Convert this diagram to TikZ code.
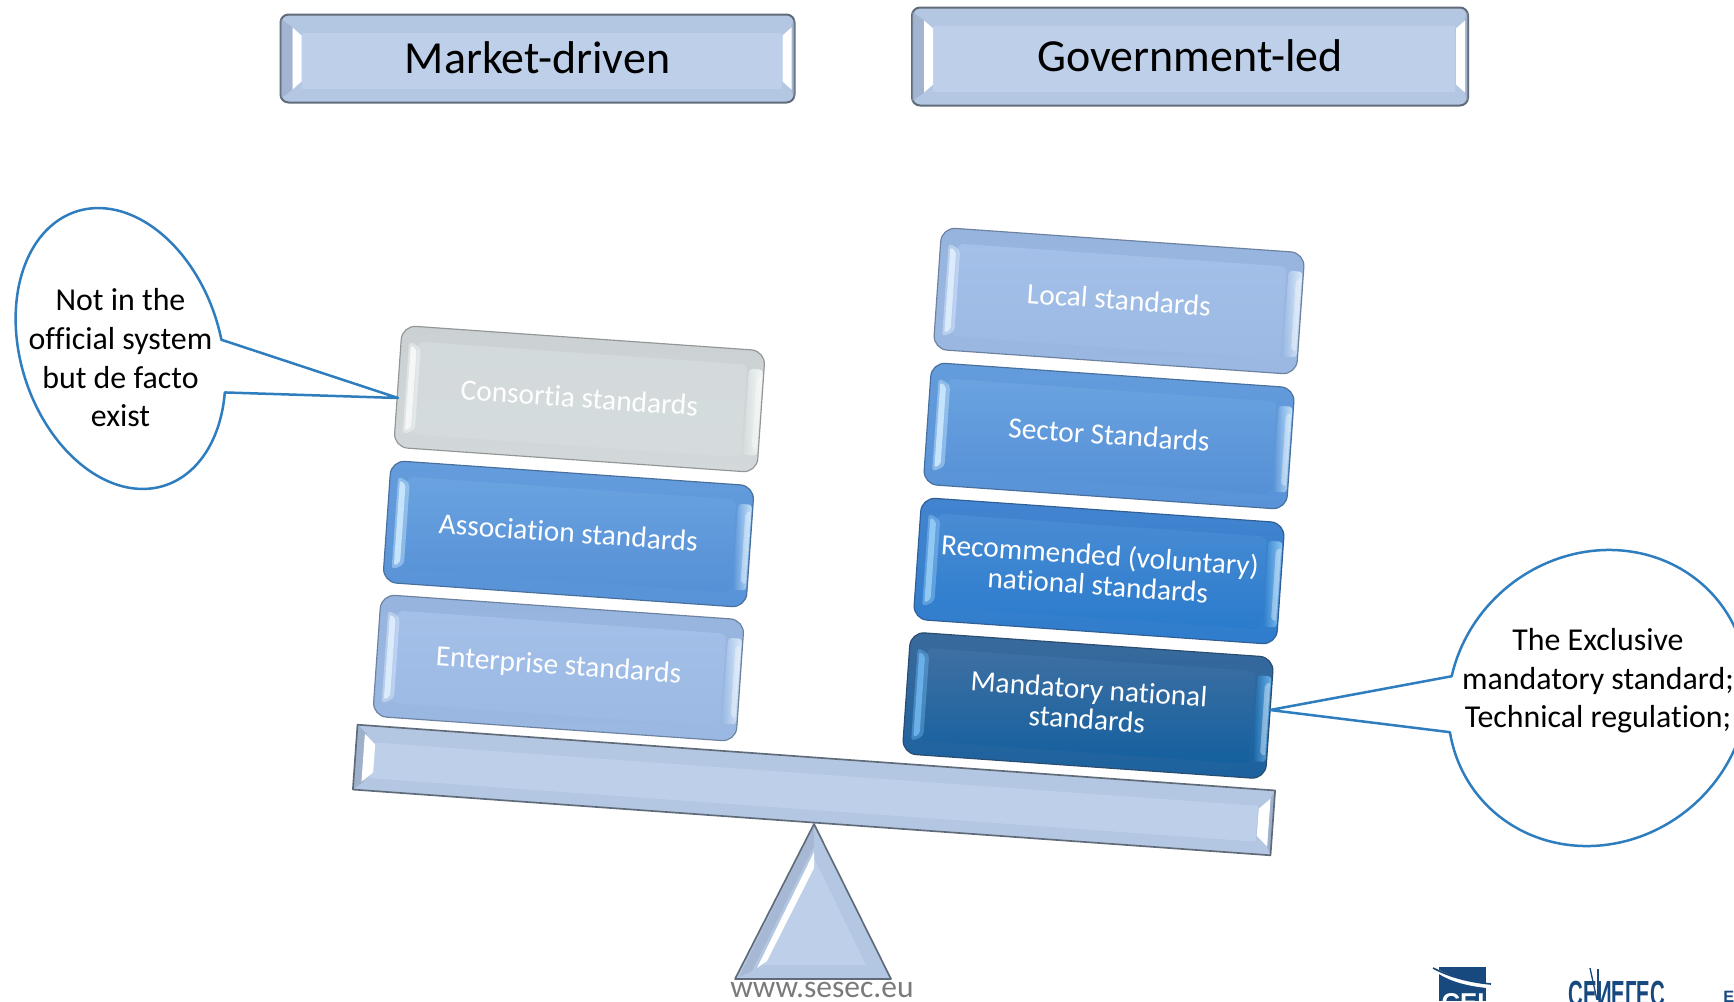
\documentclass[tikz,border=0pt]{standalone}
\usepackage{fontspec}
\setmainfont{Carlito}[Ligatures=NoCommon]
\newfontfamily\logofont{Liberation Sans}
\usetikzlibrary{calc}
\definecolor{bevelmid}{HTML}{BDCFE9}
\definecolor{bevelband}{HTML}{B3C6E2}
\definecolor{beveldark}{HTML}{8E9FB8}
\definecolor{bevelline}{HTML}{5F6B78}
\definecolor{calloutblue}{HTML}{2E7DBE}
\definecolor{logoblue}{HTML}{17497E}
\tikzset{
  blockbody/.style={rounded corners=0.42cm,minimum width=10.92cm,minimum height=3.66cm,inner sep=0pt,rotate=-4},
  blocktext/.style={rotate=-4,align=center,text=white,inner sep=0pt,font=\fontsize{25.1}{28.5}\selectfont},
  titletext/.style={font=\fontsize{39.2}{46}\selectfont,text=black,inner sep=0pt},
  callouttext/.style={font=\fontsize{27.2}{33}\selectfont,text=black,align=center,inner sep=0pt},
  calloutline/.style={draw=calloutblue,line width=0.075cm,fill=white,line join=round},
  weblabel/.style={font=\fontsize{26.9}{32}\selectfont,text=black!52,inner sep=0pt},
}
% name, cx, cy, edge colour, centre top, centre bottom, highlight, text
\newcommand{\stdblock}[8]{%
  \definecolor{blockedge}{HTML}{#4}\definecolor{blocktop}{HTML}{#5}\definecolor{blockbot}{HTML}{#6}\definecolor{blockhi}{HTML}{#7}%
  \node[blockbody,top color=blockedge,bottom color=blockbot!80!blockedge,draw=blockedge!72!black,line width=0.035cm] (#1) at (#2,#3) {};
  \begin{scope}[shift={(#1.center)},rotate=-4]
    \shade[top color=blocktop,bottom color=blockbot,rounded corners=0.2cm] (-165,-46) rectangle (165,47);
    \fill[blockhi,opacity=.45,rounded corners=0.12cm] (-174,-46) -- (-162,-40) -- (-162,42) -- (-174,48) -- cycle;
    \fill[blockhi,rounded corners=0.08cm] (-172,-42) -- (-166,-38) -- (-166,40) -- (-172,44) -- cycle;
    \shade[left color=blockbot,right color=blockhi,rounded corners=0.1cm] (167,-42) rectangle (181,44);
    \fill[white,opacity=.35,rounded corners=0.06cm] (180,-36) -- (175,-33) -- (175,36) -- (180,38) -- cycle;
  \end{scope}
  \node[blocktext] (#1text) at ($(#2,#3)+(0,-1.5)$) {#8};}
% name, cx, cy, half width, half height, text
\newcommand{\titlebox}[6]{%
  \node[draw=bevelline,line width=0.06cm,rounded corners=0.24cm,fill=bevelband,
    minimum width=#4*0.06cm,minimum height=#5*0.06cm,inner sep=0pt] (#1) at (#2,#3) {};
  \begin{scope}[shift={(#1.center)}]
    \fill[beveldark,opacity=.45] (-#4,-#5+4) -- (-#4+12,-#5+13) -- (-#4+12,#5-13) -- (-#4,#5-4) -- cycle;
    \fill[beveldark,opacity=.45] (#4,-#5+4) -- (#4-3,-#5+11) -- (#4-3,#5-11) -- (#4,#5-4) -- cycle;
    \fill[bevelmid] (-#4+21,-#5+18) rectangle (#4-13,#5-14);
    \fill[white] (-#4+12,-#5+13) -- (-#4+21,-#5+21) -- (-#4+21,#5-21) -- (-#4+12,#5-13) -- cycle;
    \fill[white] (#4-3,-#5+13) -- (#4-12,-#5+21) -- (#4-12,#5-21) -- (#4-3,#5-13) -- cycle;
  \end{scope}
  \node[titletext] (#1text) at ($(#2,#3)+(0,-1)$) {#6};}
\begin{document}
\begin{tikzpicture}[x=0.03cm,y=-0.03cm]
\useasboundingbox (0,0) rectangle (1734,1001);
\clip (0,0) rectangle (1734,1001);

\titlebox{market}{537.5}{58.5}{257}{44}{Market-driven}
\titlebox{govt}{1190}{56.5}{278}{49}{Government-led}

% fulcrum
\coordinate (fa) at (814,824);
\coordinate (fl) at (735,979);
\coordinate (fr) at (891,979);
\fill[bevelband] (fa) -- (fl) -- (fr) -- cycle;
\fill[bevelmid] (814,858) -- (762,965) -- (866,965) -- cycle;
\fill[white] (814,852) -- (757,968) -- (767,961) -- (814,868) -- cycle;
\fill[beveldark,opacity=.35] (814,826) -- (739,977) -- (752,971) -- (814,846) -- cycle;
\draw[bevelline,line width=0.05cm,line join=round] (fa) -- (fl) -- (fr) -- cycle;

% beam
\begin{scope}[shift={(814,790)},rotate=-4.1]
  \fill[bevelband] (-460,-32.5) rectangle (460,32.5);
  \fill[bevelmid] (-444,-16) rectangle (444,20);
  \fill[beveldark,opacity=.55] (-460,-32.5) -- (-450,-24) -- (-450,24) -- (-460,32.5) -- cycle;
  \fill[beveldark,opacity=.55] (460,-32.5) -- (456,-24) -- (456,24) -- (460,32.5) -- cycle;
  \fill[white] (-452,-24) -- (-441,-14) -- (-441,14) -- (-452,24) -- cycle;
  \fill[white] (456,-24) -- (445,-13) -- (445,14) -- (456,24) -- cycle;
  \draw[bevelline,line width=0.05cm,line join=round] (-460,-32.5) rectangle (460,32.5);
\end{scope}

% left stack
\stdblock{consortia}{579.5}{399}{CBD1D2}{D3DADB}{D5DBDC}{F5F7F7}{Consortia standards}
\stdblock{association}{568.5}{534}{649CDC}{6BA3E0}{5590D6}{C5E4FB}{Association standards}
\stdblock{enterprise}{558.5}{668}{96B4DE}{A4C0E9}{9BB9E3}{DCEBFB}{Enterprise standards}

% right stack
\stdblock{local}{1119}{301}{96B4DE}{A4C0E9}{9BB9E3}{DCEBFB}{Local standards}
\stdblock{sector}{1109}{436}{649CDC}{6BA3E0}{5590D6}{C5E4FB}{Sector Standards}
\stdblock{recommended}{1099}{571}{4384CF}{4A8CD4}{2A7BCC}{8FC8F2}{Recommended (voluntary)\\[-2.8pt]national standards}
\stdblock{mandatory}{1088}{705.5}{3A6A9C}{3F70A2}{14609F}{6AB0E8}{Mandatory national\\[-2.8pt]standards}

% left callout
\coordinate (tipL) at (398,398);
\draw[calloutline] plot[domain=120.8:459,samples=140,smooth]
  ({120.5+144*cos(\x)*(-0.3057)+100*sin(\x)*0.952},{348.5+144*cos(\x)*(-0.952)+100*sin(\x)*(-0.3057)})
  -- (tipL) -- cycle;
\node[callouttext] (noteL) at (120.5,358) {Not in the\\official system\\but de facto\\exist};

% right callout
\coordinate (tipR) at (1270,710);
\draw[calloutline] plot[domain=230.6:568.8,samples=140,smooth]
  ({1598+154.5*cos(\x)*0.766+143.3*sin(\x)*0.643},{698+154.5*cos(\x)*(-0.643)+143.3*sin(\x)*0.766})
  -- (tipR) -- cycle;
\node[callouttext] (noteR) at (1598,681) {The Exclusive\\mandatory standard;\\Technical regulation;};

\node[weblabel] (web) at (822,990) {www.sesec.eu};

% logos, cut by the lower edge
\fill[logoblue] (1439,967) -- (1486,967) -- (1486,1001) -- (1439,1001) -- cycle;
\fill[white] (1439,970) .. controls (1455,978) and (1470,982) .. (1487,984) -- (1487,988) .. controls (1468,986) and (1452,982) .. (1439,974) -- cycle;
\draw[logoblue,line width=0.05cm] (1433,968) .. controls (1450,977) and (1470,982) .. (1491,984);
\node[inner sep=0pt,text=white,font=\logofont\bfseries\fontsize{22}{22}\selectfont] (logoa) at (1463,1003) {CEI};
\node[inner sep=0pt,text=logoblue,font=\logofont\bfseries\fontsize{31}{31}\selectfont,xscale=.56] (logob) at (1617,994) {СЕИЕГЕС};
\draw[logoblue,line width=0.04cm] (1597,1000) -- (1590,968);
\draw[logoblue,line width=0.05cm] (1598,1000) -- (1598,969);
\node[inner sep=0pt,text=logoblue,anchor=west,font=\logofont\bfseries\fontsize{14}{14}\selectfont] (logoc) at (1723,997) {E};
\end{tikzpicture}
\end{document}
